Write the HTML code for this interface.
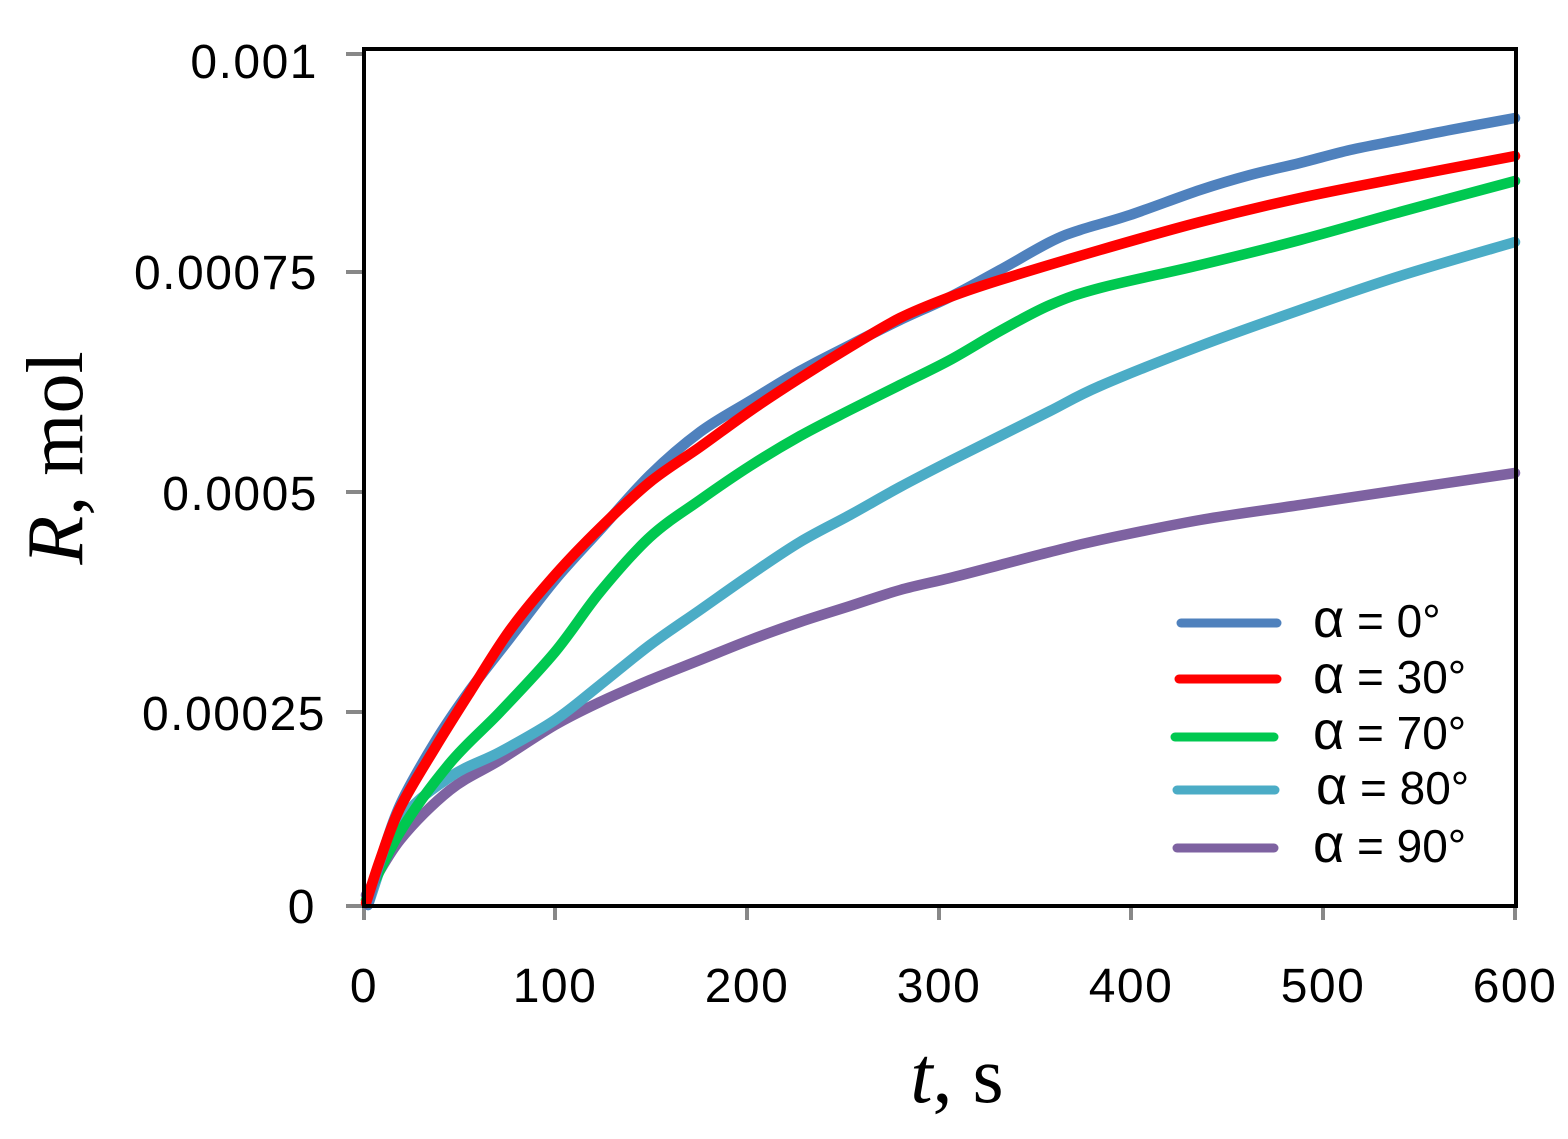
<!DOCTYPE html>
<html><head><meta charset="utf-8"><style>body{margin:0;background:#fff}</style></head>
<body>
<svg id="s" width="1568" height="1139" xmlns="http://www.w3.org/2000/svg" style="display:block">
<rect width="1568" height="1139" fill="#fff"/>
<g stroke="#888" stroke-width="4">
<line x1="346" y1="54" x2="364" y2="54"/><line x1="346" y1="272" x2="364" y2="272"/><line x1="346" y1="492" x2="364" y2="492"/><line x1="346" y1="712" x2="364" y2="712"/><line x1="346" y1="906" x2="364" y2="906"/>
<line x1="364" y1="906" x2="364" y2="920"/><line x1="555" y1="906" x2="555" y2="920"/><line x1="747" y1="906" x2="747" y2="920"/><line x1="939" y1="906" x2="939" y2="920"/><line x1="1131" y1="906" x2="1131" y2="920"/><line x1="1323" y1="906" x2="1323" y2="920"/><line x1="1515" y1="906" x2="1515" y2="920"/>
</g>
<g id="curves" fill="none" stroke-width="10.5" stroke-linejoin="round" stroke-linecap="round">
<path stroke="#7e62a1" data-p="366,895 400,840 450,790 500,760 555,725 600,702 650,680 700,660 750,640 800,622 850,606 900,590 950,578 1000,565 1050,552 1100,540 1200,520 1300,505 1400,490 1515,473"/>
<path stroke="#4bacc6" data-p="368,905 400,822 450,777 500,752 555,720 600,685 650,645 700,610 750,575 800,542 850,515 900,487 950,461 1000,436 1050,411 1100,386 1200,346 1300,310 1400,276 1515,242"/>
<path stroke="#00c850" data-p="366,900 400,832 450,763 500,712 555,652 600,592 650,537 700,500 750,466 800,436 850,410 900,385 950,360 1000,331 1050,305 1100,288 1200,265 1300,240 1400,212 1515,181"/>
<path stroke="#4f81bd" data-p="368,905 380,862 400,805 435,742 470,690 510,638 555,580 600,530 650,475 700,432 750,401 800,371 850,345 900,320 950,297 1000,270 1050,242 1080,230 1130,215 1200,190 1250,175 1300,163 1350,150 1400,140 1450,130 1515,118"/>
<path stroke="#ff0000" data-p="366,903 380,860 400,808 435,748 470,692 510,630 555,575 600,528 650,482 700,447 750,411 800,378 850,347 900,318 950,297 1000,280 1100,250 1200,222 1300,198 1400,178 1515,156"/>
</g>
<rect x="364" y="49" width="1152" height="857" fill="none" stroke="#000" stroke-width="4"/>
<g font-family="Liberation Sans, sans-serif" font-size="48" fill="#000" text-anchor="end" letter-spacing="1.5">
<text x="318" y="78">0.001</text><text x="318" y="289">0.00075</text><text x="318" y="510">0.0005</text><text x="326" y="730">0.00025</text><text x="316" y="923">0</text>
</g>
<g font-family="Liberation Sans, sans-serif" font-size="48" fill="#000" text-anchor="middle" letter-spacing="1.5">
<text x="364" y="1002">0</text><text x="555" y="1002">100</text><text x="747" y="1002">200</text><text x="939" y="1002">300</text><text x="1131" y="1002">400</text><text x="1323" y="1002">500</text><text x="1515" y="1002">600</text>
</g>
<text x="957" y="1102" font-family="Liberation Serif, serif" font-size="80" text-anchor="middle"><tspan font-style="italic">t</tspan>, s</text>
<text transform="translate(82,458) rotate(-90)" font-family="Liberation Serif, serif" font-size="80" text-anchor="middle"><tspan font-style="italic">R</tspan>, mol</text>
<g stroke-width="9" stroke-linecap="round">
<line x1="1181" y1="623" x2="1277" y2="623" stroke="#4f81bd"/>
<line x1="1179" y1="679" x2="1277" y2="679" stroke="#ff0000"/>
<line x1="1175" y1="737" x2="1274" y2="737" stroke="#00c850"/>
<line x1="1177" y1="790" x2="1275" y2="790" stroke="#4bacc6"/>
<line x1="1177" y1="848" x2="1274" y2="848" stroke="#7e62a1"/>
</g>
<g font-family="Liberation Sans, sans-serif" font-size="46" fill="#000">
<text x="1313" y="637"><tspan font-size="54">α</tspan> = 0°</text><text x="1313" y="693"><tspan font-size="54">α</tspan> = 30°</text><text x="1313" y="749"><tspan font-size="54">α</tspan> = 70°</text><text x="1316" y="804"><tspan font-size="54">α</tspan> = 80°</text><text x="1313" y="862"><tspan font-size="54">α</tspan> = 90°</text>
</g>
</svg>
<script>
document.querySelectorAll('#curves path').forEach(function(el){
  var p=el.getAttribute('data-p').trim().split(/\s+/).map(function(s){return s.split(',').map(Number);});
  var d='M'+p[0][0]+','+p[0][1];
  for(var i=0;i<p.length-1;i++){
    var p0=p[i-1]||p[i],p1=p[i],p2=p[i+1],p3=p[i+2]||p2;
    var c1x=p1[0]+(p2[0]-p0[0])/6,c1y=p1[1]+(p2[1]-p0[1])/6;
    var c2x=p2[0]-(p3[0]-p1[0])/6,c2y=p2[1]-(p3[1]-p1[1])/6;
    d+=' C'+c1x+','+c1y+' '+c2x+','+c2y+' '+p2[0]+','+p2[1];
  }
  el.setAttribute('d',d);
});
</script>
</body></html>
